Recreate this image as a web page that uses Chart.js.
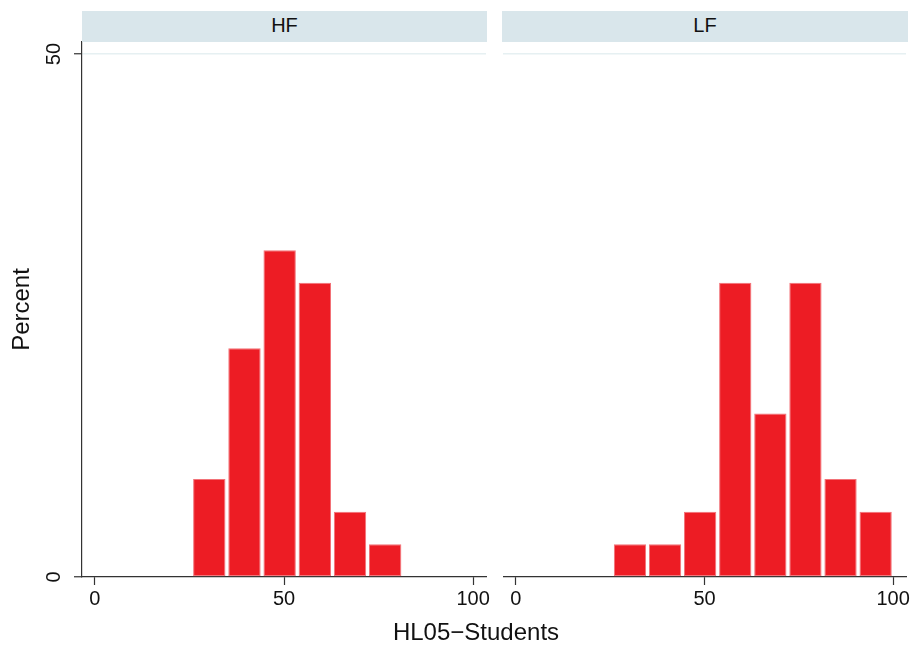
<!DOCTYPE html>
<html>
<head>
<meta charset="utf-8">
<script src="https://cdn.jsdelivr.net/npm/chart.js@4.4.0/dist/chart.umd.min.js"></script>
<style>
  body { margin: 0; background: #fff; font-family: "Liberation Sans", Arial, Helvetica, sans-serif; }
  #wrap { position: relative; width: 913px; height: 646px; overflow: hidden; }
  canvas { position: absolute; top: 0; }
  .strip { position: absolute; top: 11px; height: 31px; line-height: 28px; background: #d9e6eb; color: #111; font-size: 20px; text-align: center; }
  #xtitle { position: absolute; top: 620px; left: 326px; width: 300px; line-height: 24px; font-size: 24px; color: #111; text-align: center; }
</style>
</head>
<body>
<div id="wrap">
  <canvas id="hfChart" width="495" height="646" style="left:0"></canvas>
  <canvas id="lfChart" width="410" height="646" style="left:503px"></canvas>
  <div class="strip" style="left:82px; width:405px">HF</div>
  <div class="strip" style="left:502px; width:406px">LF</div>
  <div id="xtitle">HL05−Students</div>
</div>
<script>
// histogram bins (midpoints) and percent per bin
const binCenters = [30.25, 39.55, 48.85, 58.15, 67.45, 76.75, 86.05, 95.35];
const hfPercent = [9.375, 21.875, 31.25, 28.125, 6.25, 3.125];
const lfPercent = [3.125, 3.125, 6.25, 28.125, 15.625, 28.125, 9.375, 6.25];
const xTicks = [0, 50, 100];
const yTicks = [0, 50];

const barRed = "#ed1c24";
const axisColor = "#333";
const gridColor = "#e6f0f2";

function makeData(values) {
  return {
    datasets: [
      {
        data: values.map((v, i) => ({ x: binCenters[i], y: v })),
        backgroundColor: barRed,
        borderColor: "#f27278",
        borderWidth: 1,
        borderSkipped: false,
        barPercentage: 0.92,
        categoryPercentage: 1,
      },
    ],
  };
}

function makeOptions(isLeft) {
  return {
    responsive: false,
    animation: false,
    layout: { padding: { top: 42, right: isLeft ? 9 : 7, left: 0, bottom: 0 } },
    plugins: { legend: { display: false }, tooltip: { enabled: false } },
    scales: {
      x: {
        type: "linear",
        min: -3.4,
        max: 103.4,
        offset: false,
        afterBuildTicks: (s) => { s.ticks = xTicks.map((v) => ({ value: v })); },
        afterFit: (s) => { s.height = 69; s.paddingLeft = 0; s.paddingRight = 0; },
        grid: { drawOnChartArea: false, offset: false, tickLength: 8, tickColor: axisColor, tickWidth: 1.2 },
        border: { display: true, color: axisColor, width: 1.2 },
        ticks: { font: { size: 20, family: "Liberation Sans" }, color: "#111", padding: 2, maxRotation: 0, autoSkip: false },
      },
      y: {
        min: 0,
        max: 51.15,
        afterBuildTicks: (s) => { s.ticks = yTicks.map((v) => ({ value: v })); },
        afterFit: (s) => { s.width = isLeft ? 82 : 0; s.paddingTop = 0; s.paddingBottom = 0; },
        grid: {
          color: (ctx) => (ctx.tick && ctx.tick.value === 50 ? gridColor : "rgba(0,0,0,0)"),
          lineWidth: 1.5,
          drawTicks: isLeft,
          tickLength: 8,
          tickColor: axisColor,
          tickWidth: 1.2,
        },
        border: { display: isLeft, color: axisColor, width: 1.2 },
        ticks: {
          display: isLeft,
          font: { size: 20, family: "Liberation Sans" },
          color: "#111",
          minRotation: 90,
          maxRotation: 90,
          crossAlign: "center",
          padding: 8,
        },
        title: {
          display: isLeft,
          text: "Percent",
          font: { size: 24, family: "Liberation Sans" },
          color: "#111",
          padding: { top: 8, bottom: 0 },
        },
      },
    },
  };
}

new Chart(document.getElementById("hfChart"), { type: "bar", data: makeData(hfPercent), options: makeOptions(true) });
new Chart(document.getElementById("lfChart"), { type: "bar", data: makeData(lfPercent), options: makeOptions(false) });
</script>
</body>
</html>
